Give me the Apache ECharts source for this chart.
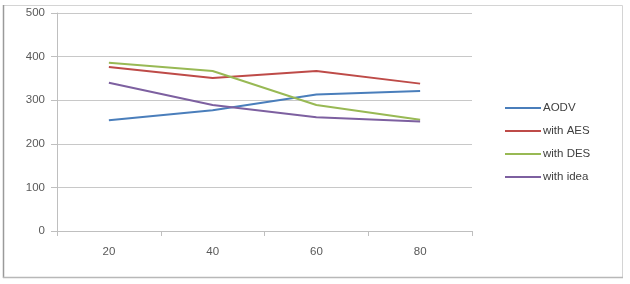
<!DOCTYPE html>
<html><head><meta charset="utf-8">
<script src="https://cdn.jsdelivr.net/npm/echarts@6/dist/echarts.min.js"></script>
<style>html,body{margin:0;padding:0;background:#fff}#c{width:630px;height:284px}</style>
</head><body><div id="c"></div>
<script>
const categories = ['20', '40', '60', '80'];
const aodv = [254, 277, 313, 321];
const withAES = [376, 351, 367, 338];
const withDES = [386, 367, 289, 255];
const withIdea = [340, 289, 261, 251];
const yTicks = [0, 100, 200, 300, 400, 500];

const names = ['AODV', 'with AES', 'with DES', 'with idea'];
const colors = ['#4A7EBB', '#BE4B48', '#98B954', '#7D60A0'];
const dataSets = [aodv, withAES, withDES, withIdea];

const chart = echarts.init(document.getElementById('c'), null, {renderer: 'canvas'});
chart.setOption({
  animation: false,
  backgroundColor: '#fff',
  textStyle: {fontFamily: 'Liberation Sans, Arial, sans-serif'},
  graphic: [
    {type: 'rect', shape: {x: 3.5, y: 5.5, width: 619, height: 272}, style: {fill: 'none', stroke: '#d4d4d4', lineWidth: 1}},
    {type: 'line', shape: {x1: 3.5, y1: 5, x2: 3.5, y2: 278}, style: {stroke: '#9a9a9a', lineWidth: 1.5}},
    {type: 'line', shape: {x1: 3, y1: 277.5, x2: 623, y2: 277.5}, style: {stroke: '#b8b8b8', lineWidth: 1.5}}
  ],
  grid: {left: 57, right: 158, top: 13, bottom: 53, containLabel: false},
  legend: {
    orient: 'vertical', left: 500, top: 97, itemGap: 11, itemWidth: 36, itemHeight: 2,
    icon: 'rect',
    textStyle: {color: '#404040', fontSize: 11.5, padding: [0, 0, 0, -3]},
    data: names
  },
  xAxis: {
    type: 'category', data: categories, boundaryGap: true,
    axisLine: {lineStyle: {color: '#bfbfbf', width: 1}},
    axisTick: {show: true, length: 5, lineStyle: {color: '#bfbfbf'}},
    axisLabel: {color: '#595959', fontSize: 11.5, margin: 15}
  },
  yAxis: {
    type: 'value', min: 0, max: 500, interval: 100,
    axisLine: {show: true, lineStyle: {color: '#bfbfbf'}},
    axisTick: {show: true, length: 6, lineStyle: {color: '#bfbfbf'}},
    axisLabel: {color: '#595959', fontSize: 11.5, margin: 12,
      formatter: v => yTicks.includes(v) ? String(v) : ''},
    splitLine: {lineStyle: {color: '#c8c8c8', width: 1}}
  },
  series: dataSets.map((d, i) => ({
    name: names[i], type: 'line', data: d, symbol: 'none',
    lineStyle: {color: colors[i], width: 2}, itemStyle: {color: colors[i]}
  }))
});
</script></body></html>
